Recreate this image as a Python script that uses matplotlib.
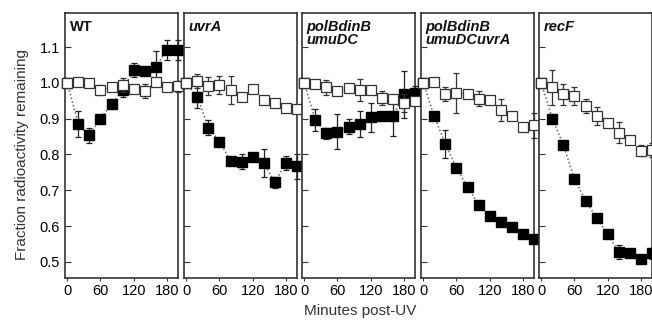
import matplotlib
matplotlib.use("Agg")
from matplotlib import pyplot as plt
import numpy as np

plt.rcParams['font.family'] = ['Liberation Sans', 'DejaVu Sans']

# time points (minutes post-UV)
minutes = [0, 20, 40, 60, 80, 100, 120, 140, 160, 180, 200]

panel_titles = ["WT", "uvrA", "polBdinB\numuDC", "polBdinB\numuDCuvrA", "recF"]
title_styles = ["normal", "italic", "italic", "italic", "italic"]

# open squares (unirradiated)
wt_open = [1.0, 1.003, 1.0, 0.98, 0.987, 0.994, 0.984, 0.978, 1.003, 0.987, 0.99]
wt_open_err = [0, 0, 0, 0.015, 0, 0.02, 0, 0.02, 0, 0, 0.015]
uvra_open = [1.0, 1.005, 0.99, 0.994, 0.98, 0.96, 0.984, 0.952, 0.943, 0.929, 0.926]
uvra_open_err = [0, 0.02, 0.025, 0.025, 0.04, 0, 0, 0, 0, 0, 0]
pol_open = [1.0, 0.996, 0.987, 0.978, 0.986, 0.98, 0.98, 0.958, 0.956, 0.944, 0.95]
pol_open_err = [0, 0, 0.02, 0, 0, 0.03, 0, 0.02, 0, 0.025, 0]
poluvr_open = [1.0, 1.003, 0.968, 0.972, 0.968, 0.956, 0.952, 0.924, 0.907, 0.878, 0.882]
poluvr_open_err = [0, 0, 0.02, 0.055, 0, 0.02, 0, 0.03, 0, 0, 0.035]
recf_open = [1.0, 0.987, 0.968, 0.963, 0.935, 0.907, 0.889, 0.861, 0.841, 0.811, 0.813]
recf_open_err = [0, 0.05, 0.03, 0.025, 0.02, 0.025, 0, 0.03, 0, 0.015, 0.02]

# filled squares (UV irradiated)
wt_filled = [1.0, 0.885, 0.853, 0.9, 0.94, 0.98, 1.035, 1.033, 1.044, 1.093, 1.091]
wt_filled_err = [0, 0.035, 0.02, 0, 0, 0.02, 0.02, 0, 0.045, 0.028, 0.028]
uvra_filled = [1.0, 0.961, 0.875, 0.836, 0.783, 0.78, 0.794, 0.776, 0.722, 0.776, 0.767]
uvra_filled_err = [0, 0.03, 0.02, 0, 0, 0.02, 0, 0.04, 0.015, 0.02, 0.035]
pol_filled = [1.0, 0.896, 0.859, 0.864, 0.878, 0.885, 0.904, 0.906, 0.906, 0.968, 0.972]
pol_filled_err = [0, 0.03, 0.015, 0.05, 0.02, 0.035, 0.04, 0, 0.055, 0.065, 0.02]
poluvr_filled = [1.0, 0.906, 0.829, 0.762, 0.709, 0.66, 0.628, 0.611, 0.597, 0.577, 0.565]
poluvr_filled_err = [0, 0, 0.04, 0, 0, 0, 0, 0, 0, 0, 0]
recf_filled = [1.0, 0.9, 0.827, 0.731, 0.671, 0.623, 0.577, 0.528, 0.526, 0.509, 0.524]
recf_filled_err = [0, 0, 0, 0, 0, 0, 0.01, 0.02, 0, 0, 0.015]

open_sets = [(wt_open, wt_open_err), (uvra_open, uvra_open_err), (pol_open, pol_open_err),
             (poluvr_open, poluvr_open_err), (recf_open, recf_open_err)]
filled_sets = [(wt_filled, wt_filled_err), (uvra_filled, uvra_filled_err), (pol_filled, pol_filled_err),
               (poluvr_filled, poluvr_filled_err), (recf_filled, recf_filled_err)]

W, H = 652, 322
fig = plt.figure(figsize=(W / 100, H / 100), dpi=100)

lefts = [65, 184, 302, 421, 539]
pw, top, bottom = 113, 13, 278
frame = '#333333'

for i, left in enumerate(lefts):
    ax = fig.add_axes([left / W, (H - bottom) / H, pw / W, (bottom - top) / H])
    y_f, e_f = filled_sets[i]
    y_o, e_o = open_sets[i]
    # filled series, dotted connecting line
    ax.plot(minutes, y_f, linestyle=(0, (1, 1.5)), color='#666666', lw=1.1, zorder=1)
    ax.errorbar(minutes, y_f, yerr=e_f, fmt='s', ms=6.5, mfc='black', mec='black',
                ecolor='#222222', elinewidth=0.9, capsize=2.5, capthick=0.9, zorder=3,
                clip_on=False)
    ax.plot(minutes, y_o, linestyle=(0, (1, 1.5)), color='#888888', lw=0.8, zorder=2)
    ax.errorbar(minutes, y_o, yerr=e_o, fmt='s', ms=6.5, mfc='white', mec='#333333', mew=0.9,
                ecolor='#333333', elinewidth=0.9, capsize=2.5, capthick=0.9, zorder=4,
                clip_on=False)
    ax.set_xlim(-4, 200)
    ax.set_ylim(0.455, 1.195)
    ax.set_xticks([0, 60, 120, 180])
    ax.set_yticks([0.5, 0.6, 0.7, 0.8, 0.9, 1.0, 1.1])
    ax.tick_params(axis='y', direction='in', length=4, color=frame, labelsize=10.5)
    ax.tick_params(axis='x', direction='out', length=2.5, color=frame, labelsize=10.5, pad=1.5)
    if i > 0:
        ax.set_yticklabels([])
    for sp in ax.spines.values():
        sp.set_color(frame)
        sp.set_linewidth(1.2)
    ax.text(0.04, 0.975, panel_titles[i], transform=ax.transAxes, ha='left', va='top',
            fontsize=10.5, fontweight='bold', fontstyle=title_styles[i], linespacing=0.95,
            color='#111111')

fig.text(22 / W, 0.52, "Fraction radioactivity remaining", rotation=90, ha='center', va='center',
         fontsize=11, color='#333333')
fig.text(360 / W, 1 - 311 / H, "Minutes post-UV", ha='center', va='center', fontsize=11, color='#333333')

fig.savefig("out.png", dpi=100)
